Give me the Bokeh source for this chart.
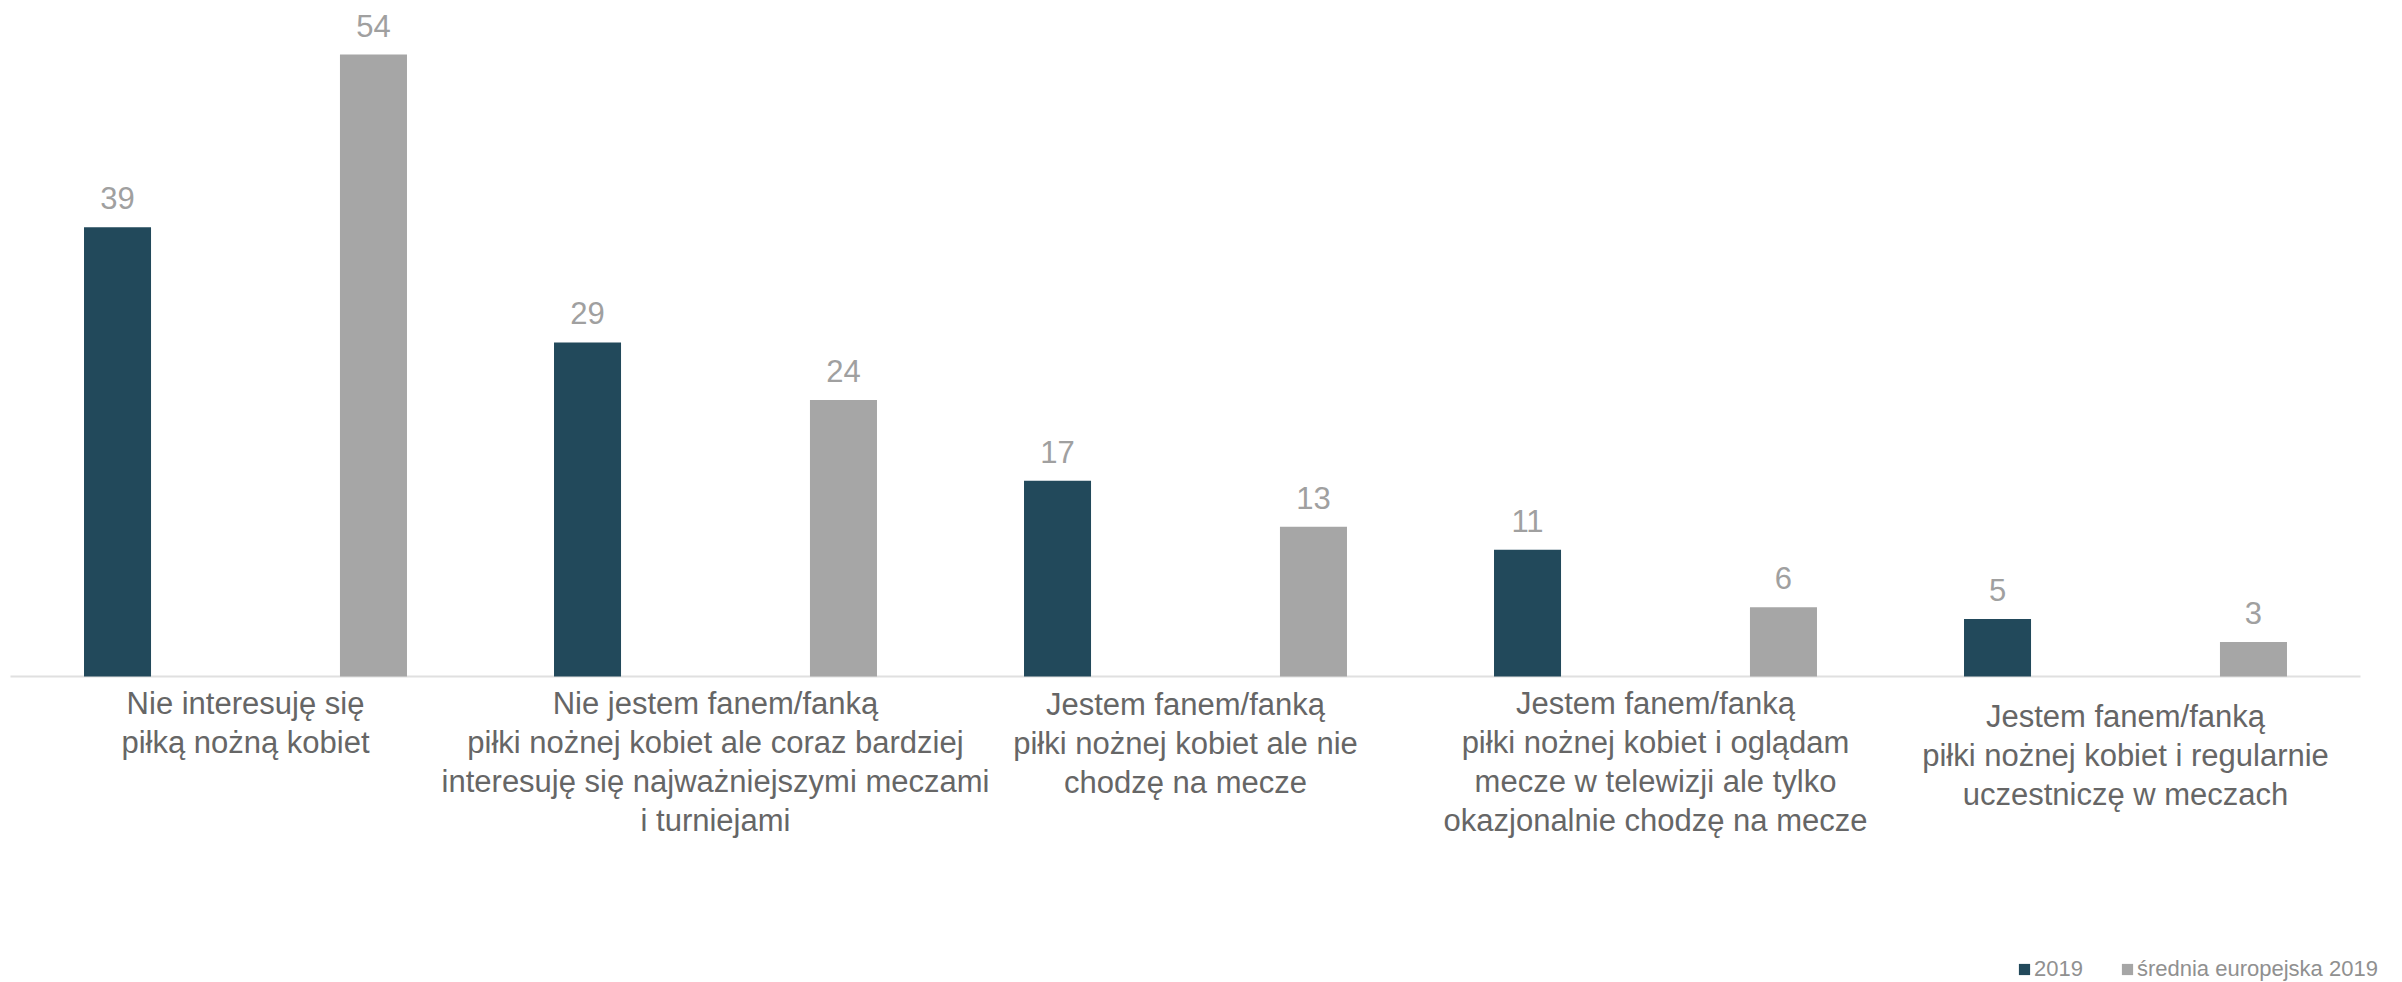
from bokeh.plotting import figure
from bokeh.models import ColumnDataSource, Range1d
from bokeh.core.properties import value
from bokeh.embed import file_html
from bokeh.resources import INLINE

# Survey answers (Poland vs. European average, 2019), in %
categories = [
    "Nie interesuję się\npiłką nożną kobiet",
    "Nie jestem fanem/fanką\npiłki nożnej kobiet ale coraz bardziej\ninteresuję się najważniejszymi meczami\ni turniejami",
    "Jestem fanem/fanką\npiłki nożnej kobiet ale nie\nchodzę na mecze",
    "Jestem fanem/fanką\npiłki nożnej kobiet i oglądam\nmecze w telewizji ale tylko\nokazjonalnie chodzę na mecze",
    "Jestem fanem/fanką\npiłki nożnej kobiet i regularnie\nuczestniczę w meczach",
]
poland_2019 = [39, 29, 17, 11, 5]
europe_2019 = [54, 24, 13, 6, 3]
series_names = ["2019", "średnia europejska 2019"]

FONT = "Liberation Sans"
DARK = "#22495b"
GREY = "#a6a6a6"

n = len(categories)
idx = list(range(n))
off = 0.2723   # dodge of each series from the category centre
bw = 0.1426    # bar width, in category units

src = ColumnDataSource(dict(
    x=idx,
    x_pl=[i - off for i in idx],
    x_eu=[i + off for i in idx],
    cat=categories,
    pl=poland_2019,
    eu=europe_2019,
    pl_txt=[str(v) for v in poland_2019],
    eu_txt=[str(v) for v in europe_2019],
    zero=[0] * n,
    # small vertical nudges of the category captions (px)
    dy=[10, 10, 11, 10, 23],
))

p = figure(
    width=2402, height=982,
    x_range=Range1d(-0.5 - 10 / 470, n - 0.5 + 42 / 470),
    y_range=Range1d(-26.57, 58.69),
    x_axis_location=None, y_axis_location=None,
    output_backend="svg", toolbar_location=None,
    min_border_left=0, min_border_right=0,
    min_border_top=0, min_border_bottom=0,
)
p.outline_line_color = None
p.grid.visible = False
p.background_fill_color = "white"

# category baseline
p.segment(x0=[-0.5], x1=[n - 0.5], y0=[0], y1=[0], line_color="#e0e0e0", line_width=2)

p.vbar(x="x_pl", top="pl", width=bw, source=src,
       fill_color=DARK, line_color=None, legend_label=series_names[0])
p.vbar(x="x_eu", top="eu", width=bw, source=src,
       fill_color=GREY, line_color=None, legend_label=series_names[1])

# value labels above the bars
for xcol, col, txt in (("x_pl", "pl", "pl_txt"), ("x_eu", "eu", "eu_txt")):
    p.text(x=xcol, y=col, text=txt, source=src,
           text_font=value(FONT), text_font_size="31px", text_color="#a0a0a0",
           text_align="center", text_baseline="alphabetic", y_offset=-29)

# category captions under the baseline
p.text(x="x", y="zero", text="cat", source=src, y_offset="dy",
       text_font=value(FONT), text_font_size="31px", text_color="#666666",
       text_align="center", text_baseline="top", text_line_height=1.11)

leg = p.legend[0]
leg.orientation = "horizontal"
leg.location = (2017, 0)
leg.glyph_width = 14
leg.glyph_height = 14
leg.label_standoff = 3
leg.spacing = 37
leg.padding = 0
leg.margin = 0
leg.border_line_color = None
leg.background_fill_alpha = 0
leg.label_text_font = FONT
leg.label_text_font_size = "22px"
leg.label_text_color = "#909090"

open("out.html", "w").write(file_html(p, INLINE))
